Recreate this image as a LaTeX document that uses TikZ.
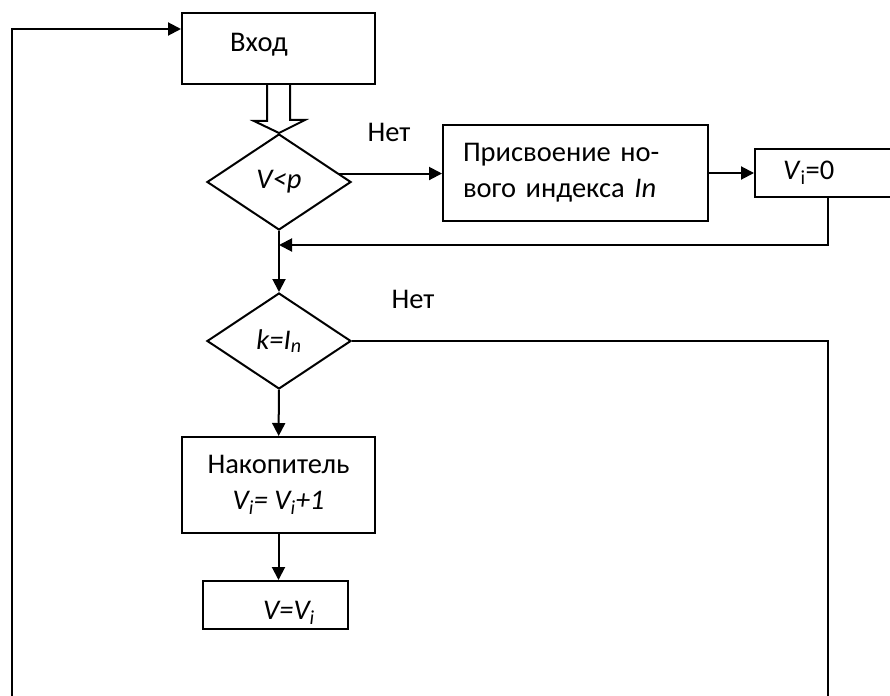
\documentclass[tikz,border=0pt]{standalone}
\usepackage{fontspec}
\setmainfont{Carlito}
\usetikzlibrary{shapes.geometric,arrows.meta}

\begin{document}
\begin{tikzpicture}[x=1pt,y=-1pt,line width=2pt,
    font=\fontsize{28.5}{36}\selectfont,
    box/.style={draw,rectangle,inner sep=0pt},
    cond/.style={draw,diamond,inner sep=0pt,minimum width=144pt,minimum height=96pt},
    arr/.style={-{Triangle[length=13pt,width=13pt]}}]
    \useasboundingbox (0,0) rectangle (890,695);
    \clip (0,0) rectangle (890,695);

    \node[box,minimum width=193pt,minimum height=71pt,
          label={[xshift=-19.5pt,yshift=3.5pt]center:Вход}] (vhod) at (278.5,48.5) {};
    \node[cond] (vp) at (279,182) {\textit{V<p}};
    \node[box,minimum width=265pt,minimum height=96pt,text width=225pt,align=left] (prisv) at (575.5,173) {Присвоение но-\\вого индекса \textit{In}};
    \node[box,minimum width=146pt,minimum height=48pt,text width=90pt,align=left] (vnull) at (828,173) {\textit{V}\textsubscript{i}=0};
    \node[cond] (kin) at (279,341) {\textit{k=I\textsubscript{n}}};
    \node[box,minimum width=193pt,minimum height=96pt,align=center] (nak) at (278.5,485) {Накопитель\\\textit{V\textsubscript{i}= V\textsubscript{i}+1}};
    \node[box,minimum width=145pt,minimum height=48pt,
          label={[xshift=13.5pt,yshift=-8pt]center:\textit{V=V\textsubscript{i}}}] (vvi) at (275.5,605) {};

    \node (net1) at (389,132) {Нет};
    \node (net2) at (413,299) {Нет};

    \coordinate (loopL) at (12,710);
    \coordinate (loopR) at (828,710);
    \coordinate (merge) at (279,245);

    % hollow arrow
    \draw ([xshift=-11.5pt]vhod.south) -- ++(0,36) -- ++(-13,0) -- (vp.north) -- ++(26,-13) -- ++(-15,0) -- ++(0,-36);

    \draw[arr] (loopL) |- ([yshift=19.5pt]vhod.west);
    \draw[arr] (vp.8) -- (vp.8 -| prisv.west);
    \draw[arr] (prisv) -- (vnull);
    \draw[arr] (vnull.south) |- (merge);
    \draw[arr] (vp) -- (kin);
    \draw (kin.east) -| (loopR);
    \draw[arr] (kin) -- (nak);
    \draw[arr] (nak.south) -- (nak.south |- vvi.north);
\end{tikzpicture}
\end{document}
